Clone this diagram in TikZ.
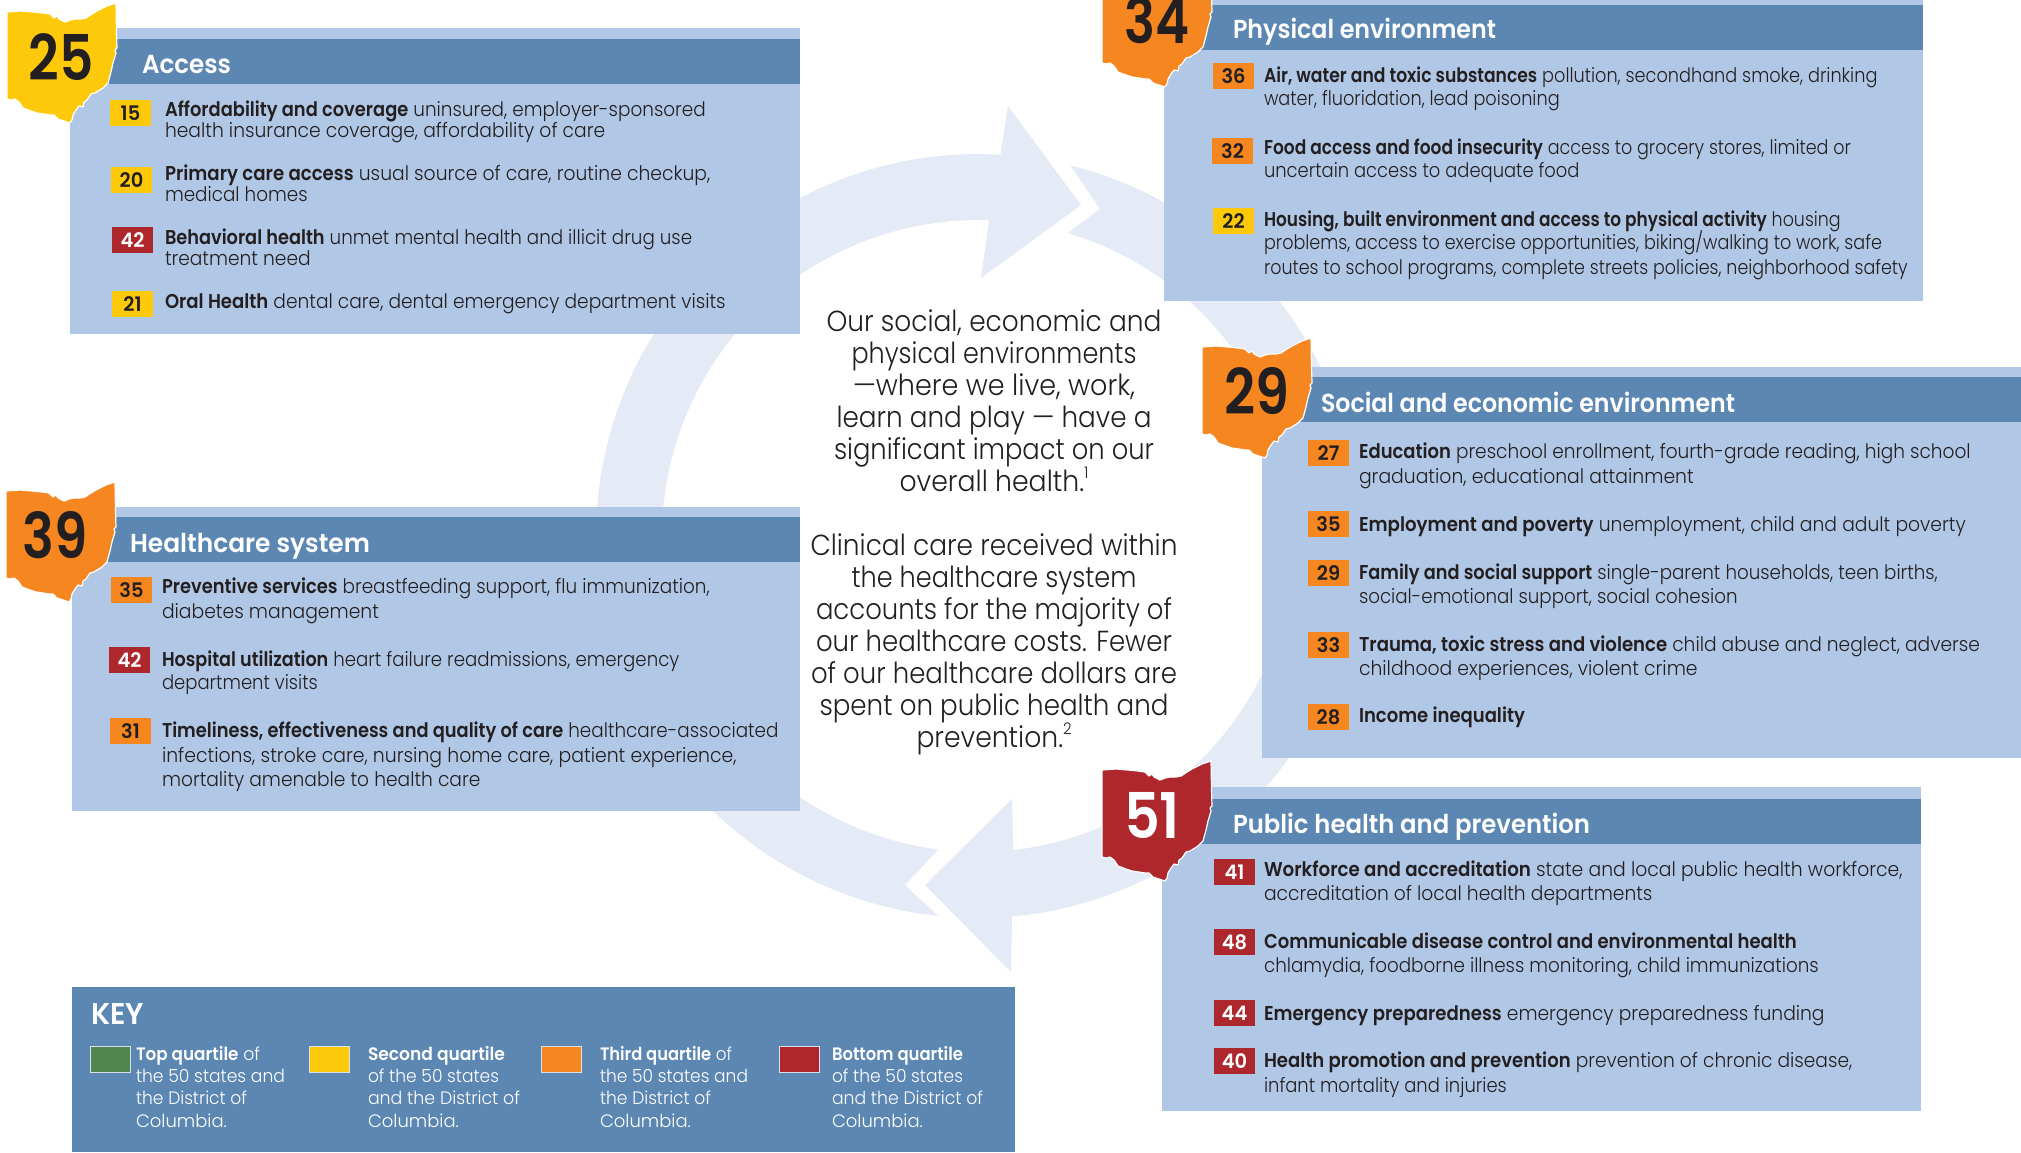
\documentclass[tikz,border=0pt]{standalone}
\usepackage{fontspec}
\usepackage{graphicx}
\setmainfont{Poppins}[UprightFont=* Light,BoldFont=* SemiBold,BoldFeatures={FakeStretch=0.97}]
\definecolor{ink}{HTML}{231F20}
\definecolor{ring}{HTML}{E4EBF6}
\definecolor{panel}{HTML}{B0C7E6}
\definecolor{band}{HTML}{5B87B2}
\definecolor{qa}{HTML}{50864F}
\definecolor{qb}{HTML}{FFC90B}
\definecolor{qc}{HTML}{F68620}
\definecolor{qd}{HTML}{AD272D}
\newsavebox\fitbox
\newcounter{fitc}
% anchor, x, y, width in px, content
\newcommand{\fitnode}[5]{\stepcounter{fitc}%
  \node[anchor=#1,inner sep=0pt,outer sep=0pt] (txt\arabic{fitc}) at (#2,#3) {\sbox\fitbox{#5}%
  \pgfmathsetmacro\fitr{(#4)*0.5/\the\wd\fitbox}\scalebox{\fitr}[1]{\usebox\fitbox}};}
% x0, baseline, end in px of the small view, text
\newcommand{\bodyl}[4]{\fitnode{base west}{#1}{#2}{#3*1.289-#1}{\fontsize{10pt}{12pt}\selectfont\color{ink}#4}}
\newcommand{\titl}[4]{\fitnode{base west}{#1}{#2}{#3}{\fontsize{13pt}{15pt}\selectfont\bfseries\color{white}#4}}
\newcommand{\midl}[3]{\fitnode{base}{994}{#1}{#2}{\fontsize{14.5pt}{18pt}\selectfont\color{ink}#3}}
\newcommand{\keyl}[4]{\fitnode{base west}{#1}{#2}{#3}{\fontsize{9pt}{11pt}\selectfont\color{white}#4}}
\newcommand{\badg}[5]{\stepcounter{fitc}\node[badgebox,fill=#3,text=#4] (bdg\arabic{fitc}) at (#1,#2) {#5};}
\newcommand{\bign}[5]{\fitnode{base}{#1}{#2}{#3}{\fontsize{31.5pt}{36pt}\selectfont\bfseries\color{#4}#5}}
\newcommand{\supn}[1]{\raisebox{0.42em}{\fontsize{8pt}{8pt}\selectfont #1}}
\newcommand{\ohio}[3]{\begin{scope}[shift={(#1,#2)}]
  \fill[#3,draw=white,line width=0.6pt,line join=round]
  (0,0) -- (14,-1) -- (26,0) -- (36,1) -- (43,2) -- (47,6) -- (50,4) -- (52,7) -- (58,10) -- (63,8) -- (68,7) -- (74,7) -- (79,6) -- (85,2) -- (90,-1) -- (100,-6) -- (109,-9)
  -- (109.5,20) -- (110,36) -- (108,38) -- (109,41) -- (106,51) -- (104,60) -- (101,71) -- (96,76) -- (88,81) -- (84,82) -- (80,88) -- (77,90) -- (76,95) -- (72,94) -- (69,98) -- (66,103) -- (65,108) -- (63,111)
  -- (57,109) -- (51,107) -- (47,103) -- (43,103) -- (37,102) -- (30,101) -- (24,99) -- (16,96) -- (12,90) -- (8,87) -- (4,88) -- (0,87) -- cycle;
  \end{scope}}
\tikzset{badgebox/.style={anchor=north west,minimum width=20.5pt,minimum height=13pt,inner sep=0pt,outer sep=0pt,font=\fontsize{10pt}{11pt}\selectfont\bfseries},
  swatch/.style={draw=white!75!band,line width=0.5pt,minimum width=20pt,minimum height=13pt,inner sep=0pt,anchor=north west}}
\begin{document}
\begin{tikzpicture}[x=0.5pt,y=-0.5pt]
\useasboundingbox (0,0) rectangle (2021,1152);
\clip (0,0) rectangle (2021,1152);
\fill[white] (0,0) rectangle (2021,1152);
% ring arrows
\fill[ring] plot[domain=97.2:272,samples=80] ({978+316*cos(\x)},{536+316*sin(\x)})
  -- (981,278) -- (1081,205) -- (1008,106) -- (1000.7,153)
  -- plot[domain=273.4:96,samples=80] ({978+382*cos(\x)},{536+382*sin(\x)})
  -- (905,885) -- cycle;
\fill[ring] plot[domain=286.5:443.6,samples=80] ({978+316*cos(\x)},{536+316*sin(\x)})
  -- (1012,799) -- (925,885) -- (1011,972) -- (1012,918)
  -- plot[domain=445:284,samples=80] ({978+382*cos(\x)},{536+382*sin(\x)})
  -- (1100,209) -- cycle;
% panels
\fill[panel] (70,28) rectangle (800,334);   \fill[band] (70,39) rectangle (800,84);
\fill[panel] (1164,-5) rectangle (1923,301);\fill[band] (1164,5) rectangle (1923,50);
\fill[panel] (1262,367) rectangle (2021,758);\fill[band] (1262,377) rectangle (2021,422);
\fill[panel] (72,507) rectangle (800,811);  \fill[band] (72,517) rectangle (800,562);
\fill[panel] (1162,787) rectangle (1921,1111);\fill[band] (1162,799) rectangle (1921,844);
\fill[band] (72,987) rectangle (1015,1152);
% ohio
\ohio{7}{12}{qb}
\ohio{1102}{-24}{qc}
\ohio{1202}{347}{qc}
\ohio{6}{491}{qc}
\ohio{1102}{770}{qd}
\bign{61}{80}{65}{ink}{25}
\bign{1157}{43}{65}{ink}{34}
\bign{1257}{414}{65}{ink}{29}
\bign{55}{558}{65}{ink}{39}
\bign{1152}{838}{56}{white}{51}
% titles
\titl{142}{73}{89}{Access}
\titl{1233}{38}{263}{Physical environment}
\titl{1321}{412}{414}{Social and economic environment}
\titl{130}{552}{240}{Healthcare system}
\titl{1233}{833}{357}{Public health and prevention}
% access
\badg{110}{100}{qb}{ink}{15}
\badg{111}{167}{qb}{ink}{20}
\badg{112}{227}{qd}{white}{42}
\badg{112}{291}{qb}{ink}{21}
\bodyl{165}{116}{547.5}{\textbf{Affordability and coverage} uninsured, employer-sponsored}
\bodyl{165}{137}{469.5}{health insurance coverage, affordability of care}
\bodyl{165}{180}{551}{\textbf{Primary care access} usual source of care, routine checkup,}
\bodyl{165}{201}{238.7}{medical homes}
\bodyl{165}{244}{537}{\textbf{Behavioral health} unmet mental health and illicit drug use}
\bodyl{165}{265}{241}{treatment need}
\bodyl{165}{308}{563}{\textbf{Oral Health} dental care, dental emergency department visits}
% physical
\badg{1213}{63}{qc}{ink}{36}
\badg{1212}{138}{qc}{ink}{32}
\badg{1213}{208}{qb}{ink}{22}
\bodyl{1264}{82}{1456.5}{\textbf{Air, water and toxic substances} pollution, secondhand smoke, drinking}
\bodyl{1264}{105}{1210}{water, fluoridation, lead poisoning}
\bodyl{1264}{154}{1436}{\textbf{Food access and food insecurity} access to grocery stores, limited or}
\bodyl{1264}{177}{1225.4}{uncertain access to adequate food}
\bodyl{1264}{226}{1428}{\textbf{Housing, built environment and access to physical activity} housing}
\bodyl{1264}{249}{1460}{problems, access to exercise opportunities, biking/walking to work, safe}
\bodyl{1264}{274}{1480}{routes to school programs, complete streets policies, neighborhood safety}
% social
\badg{1308}{440}{qc}{ink}{27}
\badg{1308}{511}{qc}{ink}{35}
\badg{1308}{560}{qc}{ink}{29}
\badg{1308}{632}{qc}{ink}{33}
\badg{1308}{704}{qc}{ink}{28}
\bodyl{1359}{458}{1528.8}{\textbf{Education} preschool enrollment, fourth-grade reading, high school}
\bodyl{1359}{483}{1314}{graduation, educational attainment}
\bodyl{1359}{531}{1525}{\textbf{Employment and poverty} unemployment, child and adult poverty}
\bodyl{1359}{579}{1503.4}{\textbf{Family and social support} single-parent households, teen births,}
\bodyl{1359}{603}{1348}{social-emotional support, social cohesion}
\bodyl{1359}{651}{1536}{\textbf{Trauma, toxic stress and violence} child abuse and neglect, adverse}
\bodyl{1359}{675}{1317}{childhood experiences, violent crime}
\bodyl{1359}{722}{1183}{\textbf{Income inequality}}
% healthcare
\badg{111}{577}{qc}{ink}{35}
\badg{109}{647}{qd}{white}{42}
\badg{110}{718}{qc}{ink}{31}
\bodyl{162}{593}{550.6}{\textbf{Preventive services} breastfeeding support, flu immunization,}
\bodyl{162}{618}{294}{diabetes management}
\bodyl{162}{666}{527}{\textbf{Hospital utilization} heart failure readmissions, emergency}
\bodyl{162}{689}{246.6}{department visits}
\bodyl{162}{737}{604}{\textbf{Timeliness, effectiveness and quality of care} healthcare-associated}
\bodyl{162}{762}{571.5}{infections, stroke care, nursing home care, patient experience,}
\bodyl{162}{786}{372.7}{mortality amenable to health care}
% public
\badg{1214}{859}{qd}{white}{41}
\badg{1214}{929}{qd}{white}{48}
\badg{1214}{1000}{qd}{white}{44}
\badg{1214}{1048}{qd}{white}{40}
\bodyl{1264}{876}{1476}{\textbf{Workforce and accreditation} state and local public health workforce,}
\bodyl{1264}{900}{1282}{accreditation of local health departments}
\bodyl{1264}{948}{1394}{\textbf{Communicable disease control and environmental health}}
\bodyl{1264}{972}{1411}{chlamydia, foodborne illness monitoring, child immunizations}
\bodyl{1264}{1020}{1415.5}{\textbf{Emergency preparedness} emergency preparedness funding}
\bodyl{1264}{1067}{1437}{\textbf{Health promotion and prevention} prevention of chronic disease,}
\bodyl{1264}{1092}{1169}{infant mortality and injuries}
% centre text
\midl{331}{335}{Our social, economic and}
\midl{363}{285}{physical environments}
\midl{395}{282}{—where we live, work,}
\midl{427}{315}{learn and play — have a}
\midl{459}{320}{significant impact on our}
\midl{491}{189}{overall health.\supn{1}}
\midl{555}{367}{Clinical care received within}
\midl{587}{285}{the healthcare system}
\midl{619}{356}{accounts for the majority of}
\midl{651}{356}{our healthcare costs. Fewer}
\midl{683}{366}{of our healthcare dollars are}
\midl{715}{349}{spent on public health and}
\midl{747}{155}{prevention.\supn{2}}
% key
\fitnode{base west}{91}{1024}{53}{\fontsize{15pt}{18pt}\selectfont\bfseries\color{white}KEY}
\node[swatch,fill=qa] (sw1) at (90,1046) {};
\node[swatch,fill=qb] (sw2) at (309,1046) {};
\node[swatch,fill=qc] (sw3) at (541,1046) {};
\node[swatch,fill=qd] (sw4) at (779,1046) {};
\keyl{136}{1060}{124}{\textbf{Top quartile} of}
\keyl{136}{1082}{149}{the 50 states and}
\keyl{136}{1104}{111}{the District of}
\keyl{136}{1127}{91}{Columbia.}
\keyl{368}{1060}{137}{\textbf{Second quartile}}
\keyl{368}{1082}{131}{of the 50 states}
\keyl{368}{1104}{152}{and the District of}
\keyl{368}{1127}{91}{Columbia.}
\keyl{600}{1060}{132}{\textbf{Third quartile} of}
\keyl{600}{1082}{148}{the 50 states and}
\keyl{600}{1104}{111}{the District of}
\keyl{600}{1127}{91}{Columbia.}
\keyl{832}{1060}{131}{\textbf{Bottom quartile}}
\keyl{832}{1082}{131}{of the 50 states}
\keyl{832}{1104}{151}{and the District of}
\keyl{832}{1127}{91}{Columbia.}
\end{tikzpicture}
\end{document}
